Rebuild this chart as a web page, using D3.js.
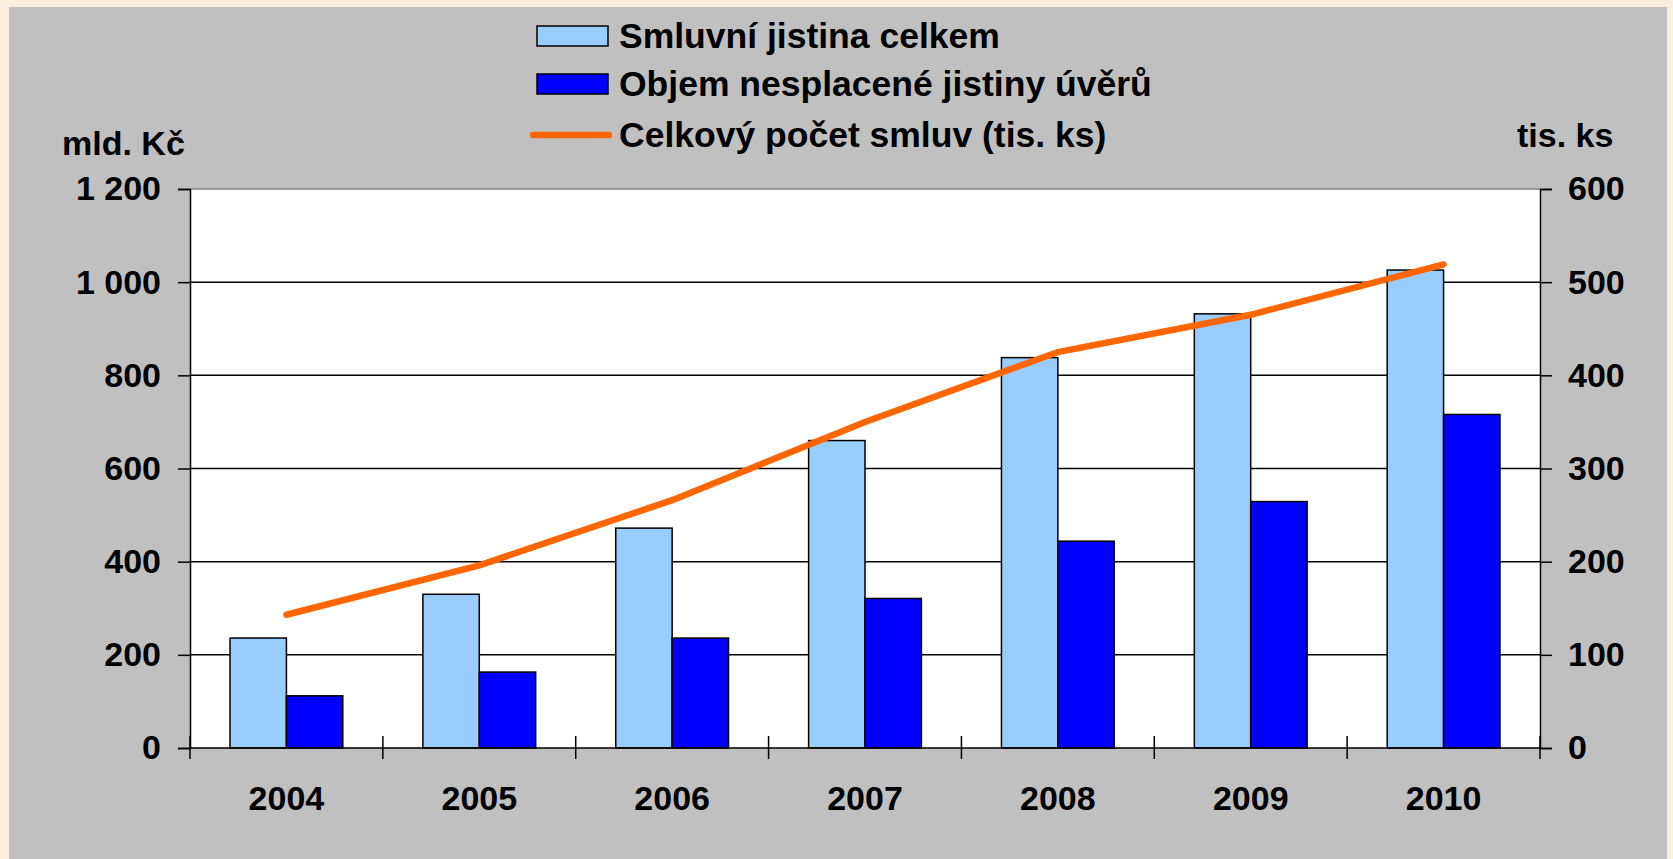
<!DOCTYPE html>
<html>
<head>
<meta charset="utf-8">
<script src="https://cdn.jsdelivr.net/npm/d3@7"></script>
<style>
  body { margin: 0; background: #fbeedd; }
  svg { display: block; }
  text { font-family: "Liberation Sans", Arial, sans-serif; font-weight: bold; fill: #000; }
</style>
</head>
<body>
<svg id="chart" width="1673" height="859"></svg>
<script>
// data
const years = ["2004", "2005", "2006", "2007", "2008", "2009", "2010"]
const smluvniJistina = [236, 330, 472, 660, 838, 932, 1026]
const nesplaceno = [112, 163, 236, 321, 444, 529, 716]
const pocetSmluv = [143, 196, 266, 350, 425, 465, 519]
const leftTicks = [0, 200, 400, 600, 800, 1000, 1200]
const rightTicks = [0, 100, 200, 300, 400, 500, 600]
const seriesNames = ["Smluvní jistina celkem", "Objem nesplacené jistiny úvěrů", "Celkový počet smluv (tis. ks)"]
const barColors = ["#99ccff", "#0000ff"]
const lineColor = "#ff6600"

const svg = d3.select("#chart")
const plotL = 190, plotR = 1540, plotT = 189, plotB = 748
const fs = "34px"

// gray panel
svg.append("rect").attr("x", 9).attr("y", 7).attr("width", 1658).attr("height", 852).attr("fill", "#c0c0c0")
svg.append("rect").attr("x", plotL).attr("y", plotT).attr("width", plotR - plotL).attr("height", plotB - plotT).attr("fill", "#fff")

const x = d3.scaleBand().domain(years).range([plotL, plotR]).paddingInner(0).paddingOuter(0)
const x1 = d3.scaleBand().domain([0, 1]).range([0, x.bandwidth()]).paddingInner(0).paddingOuter(0.71)
const y = d3.scaleLinear().domain([0, 1200]).range([plotB, plotT])
const y2 = d3.scaleLinear().domain([0, 600]).range([plotB, plotT])

// gridlines
svg.append("g").selectAll("line").data(leftTicks.slice(1, -1)).enter().append("line")
  .attr("x1", plotL).attr("x2", plotR)
  .attr("y1", d => y(d)).attr("y2", d => y(d))
  .attr("stroke", "#000").attr("stroke-width", 1.5)
svg.append("line").attr("x1", plotL).attr("x2", plotR).attr("y1", plotT).attr("y2", plotT)
  .attr("stroke", "#808080").attr("stroke-width", 1.5)

// bars
const groups = svg.append("g").selectAll("g").data(years).enter().append("g")
  .attr("transform", d => `translate(${x(d)},0)`)
groups.selectAll("rect").data((d, i) => [smluvniJistina[i], nesplaceno[i]]).enter().append("rect")
  .attr("x", (d, j) => x1(j))
  .attr("width", x1.bandwidth())
  .attr("y", d => y(d))
  .attr("height", d => plotB - y(d))
  .attr("fill", (d, j) => barColors[j])
  .attr("stroke", "#000").attr("stroke-width", 1.5)

// axes
const fmt = d => d3.format(",")(d).replace(/,/g, " ")
const yAxis = svg.append("g").attr("transform", `translate(${plotL},0)`)
  .call(d3.axisLeft(y).tickValues(leftTicks).tickFormat(fmt).tickSize(12).tickPadding(17))
const yAxis2 = svg.append("g").attr("transform", `translate(${plotR},0)`)
  .call(d3.axisRight(y2).tickValues(rightTicks).tickSize(12).tickPadding(16))
const xAxis = svg.append("g").attr("transform", `translate(0,${plotB})`)
  .call(d3.axisBottom(x).tickSize(0).tickPadding(38))
svg.append("g").selectAll("line").data(years.concat(["end"])).enter().append("line")
  .attr("x1", (d, i) => plotL + i * x.step()).attr("x2", (d, i) => plotL + i * x.step())
  .attr("y1", plotB - 12).attr("y2", plotB + 11)
  .attr("stroke", "#000").attr("stroke-width", 1.5)

;[yAxis, yAxis2, xAxis].forEach(a => {
  a.select(".domain").attr("stroke", "#000").attr("stroke-width", 1.5)
  a.selectAll(".tick line").attr("stroke", "#000").attr("stroke-width", 1.5)
  a.selectAll("text").style("font-size", fs).style("font-family", "Liberation Sans, Arial, sans-serif").style("font-weight", "bold").attr("fill", "#000")
})
xAxis.select(".domain").attr("d", `M${plotL},0H${plotR}`)

// line
const line = d3.line().x((d, i) => x(years[i]) + x.bandwidth() / 2).y(d => y2(d))
svg.append("path").datum(pocetSmluv).attr("d", line)
  .attr("fill", "none").attr("stroke", lineColor).attr("stroke-width", 6.5).attr("stroke-linecap", "round")

// axis titles
svg.append("text").attr("x", 62).attr("y", 155).style("font-size", fs).text("mld. Kč")
svg.append("text").attr("x", 1517).attr("y", 147).style("font-size", fs).text("tis. ks")

// legend
const leg = svg.append("g")
const rows = [36, 84, 135]
seriesNames.forEach((name, i) => {
  if (i < 2) {
    leg.append("rect").attr("x", 537).attr("y", rows[i] - 10).attr("width", 71).attr("height", 20)
      .attr("fill", barColors[i]).attr("stroke", "#000").attr("stroke-width", 1.5)
  } else {
    leg.append("line").attr("x1", 533).attr("x2", 609).attr("y1", rows[i]).attr("y2", rows[i])
      .attr("stroke", lineColor).attr("stroke-width", 6.5).attr("stroke-linecap", "round")
  }
  leg.append("text").attr("x", 619).attr("y", rows[i]).attr("dy", "0.35em").style("font-size", "35.5px").text(name)
})
</script>
</body>
</html>
